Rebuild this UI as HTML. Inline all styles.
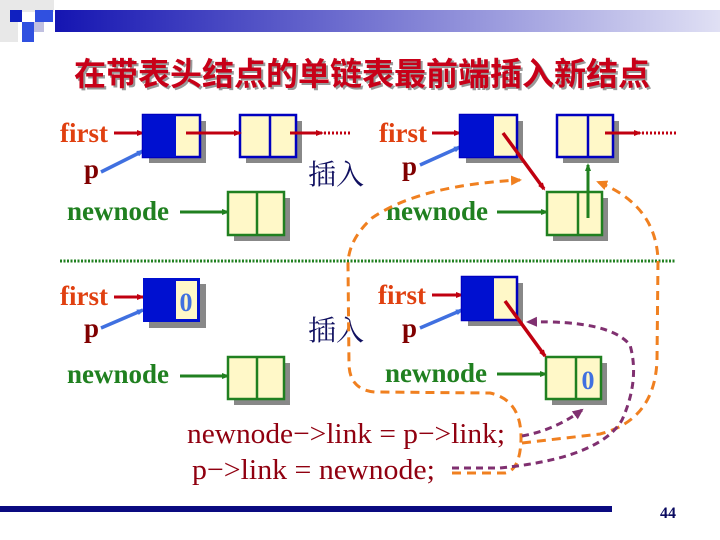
<!DOCTYPE html>
<html><head><meta charset="utf-8"><style>
html,body{margin:0;padding:0;background:#fff}
svg{display:block}
.f{font-family:"Liberation Serif",serif;font-weight:bold;font-size:27px}
.c{font-family:"Liberation Serif","Noto Serif CJK SC",serif;font-size:29px}
.k{font-family:"Liberation Serif","Noto Serif CJK SC",serif;font-size:28px}
</style></head><body>
<svg width="720" height="540" viewBox="0 0 720 540" xmlns="http://www.w3.org/2000/svg">
<defs>
<linearGradient id="g" x1="0" x2="1"><stop offset="0" stop-color="#1010b0"/><stop offset="1" stop-color="#e0e0f4"/></linearGradient>
<marker id="ar" markerWidth="8" markerHeight="8" refX="6" refY="4" orient="auto" markerUnits="userSpaceOnUse"><path d="M0,1 L8,4 L0,7z" fill="#c00010"/></marker>
<marker id="ab" markerWidth="8" markerHeight="8" refX="6" refY="4" orient="auto" markerUnits="userSpaceOnUse"><path d="M0,1 L8,4 L0,7z" fill="#4070e0"/></marker>
<marker id="ag" markerWidth="8" markerHeight="8" refX="6" refY="4" orient="auto" markerUnits="userSpaceOnUse"><path d="M0,1 L8,4 L0,7z" fill="#208020"/></marker>
<marker id="ao" markerWidth="12" markerHeight="12" refX="9" refY="6" orient="auto" markerUnits="userSpaceOnUse"><path d="M0,1 L11,6 L0,11z" fill="#f08020"/></marker>
<marker id="ap" markerWidth="12" markerHeight="12" refX="9" refY="6" orient="auto" markerUnits="userSpaceOnUse"><path d="M0,1 L11,6 L0,11z" fill="#803070"/></marker>
</defs>
<rect x="40" y="10" width="680" height="22" fill="url(#g)"/>
<rect x="0" y="0" width="55" height="45" fill="#fff"/>
<rect x="0" y="0" width="18" height="42" fill="#e8e8e8"/>
<rect x="18" y="0" width="36" height="12" fill="#e8e8e8"/>
<rect x="10" y="10" width="12" height="12" fill="#1020c0"/>
<rect x="35" y="10" width="18" height="12" fill="#3050e0"/>
<rect x="22" y="22" width="12" height="20" fill="#3050e0"/>
<rect x="34" y="22" width="10" height="10" fill="#c0c0e0"/>
<text x="364" y="87" text-anchor="middle" font-family="'Liberation Sans','Noto Sans CJK SC',sans-serif" font-weight="bold" font-size="32" fill="#999">在带表头结点的单链表最前端插入新结点</text>
<text x="362" y="85" text-anchor="middle" font-family="'Liberation Sans','Noto Sans CJK SC',sans-serif" font-weight="bold" font-size="32" fill="#c80018">在带表头结点的单链表最前端插入新结点</text>

<text class="f" x="60" y="142" fill="#e04010">first</text>
<text class="f" x="84" y="178" fill="#800000">p</text>
<text class="f" x="67" y="220" fill="#208020">newnode</text>
<line x1="114" y1="133" x2="143" y2="133" stroke="#c00010" stroke-width="3" marker-end="url(#ar)"/>
<line x1="101" y1="172" x2="143" y2="151" stroke="#4070e0" stroke-width="3.5" marker-end="url(#ab)"/>
<rect x="149" y="121" width="57" height="42" fill="#888"/>
<rect x="143" y="115" width="57" height="42" fill="#fff8c8" stroke="#0000c0" stroke-width="2.5"/>
<rect x="143" y="115" width="33" height="42" fill="#0010d0"/>
<rect x="246" y="121" width="56" height="42" fill="#888"/>
<rect x="240" y="115" width="56" height="42" fill="#fff8c8" stroke="#0000c0" stroke-width="2.5"/>
<line x1="270" y1="115" x2="270" y2="157" stroke="#0000c0" stroke-width="2.5"/>
<line x1="186" y1="133" x2="240" y2="133" stroke="#c00010" stroke-width="3" marker-end="url(#ar)"/>
<line x1="290" y1="133" x2="322" y2="133" stroke="#c00010" stroke-width="3" marker-end="url(#ar)"/>
<line x1="324" y1="133" x2="352" y2="133" stroke="#c00010" stroke-width="3" stroke-dasharray="2 2"/>
<line x1="180" y1="212" x2="228" y2="212" stroke="#208020" stroke-width="3" marker-end="url(#ag)"/>
<rect x="234" y="198" width="56" height="43" fill="#888"/>
<rect x="228" y="192" width="56" height="43" fill="#fff8c8" stroke="#208020" stroke-width="2.5"/>
<line x1="257" y1="192" x2="257" y2="235" stroke="#208020" stroke-width="2.5"/>
<text class="k" x="308" y="184" fill="#101060">插入</text>

<text class="f" x="379" y="142" fill="#e04010">first</text>
<text class="f" x="402" y="175" fill="#800000">p</text>
<text class="f" x="386" y="220" fill="#208020">newnode</text>
<line x1="432" y1="133" x2="460" y2="133" stroke="#c00010" stroke-width="3" marker-end="url(#ar)"/>
<line x1="420" y1="165" x2="460" y2="147" stroke="#4070e0" stroke-width="3.5" marker-end="url(#ab)"/>
<rect x="466" y="121" width="57" height="42" fill="#888"/>
<rect x="460" y="115" width="57" height="42" fill="#fff8c8" stroke="#0000c0" stroke-width="2.5"/>
<rect x="460" y="115" width="34" height="42" fill="#0010d0"/>
<rect x="563" y="121" width="56" height="42" fill="#888"/>
<rect x="557" y="115" width="56" height="42" fill="#fff8c8" stroke="#0000c0" stroke-width="2.5"/>
<line x1="588" y1="115" x2="588" y2="157" stroke="#0000c0" stroke-width="2.5"/>
<line x1="605" y1="133" x2="640" y2="133" stroke="#c00010" stroke-width="3" marker-end="url(#ar)"/>
<line x1="642" y1="133" x2="676" y2="133" stroke="#c00010" stroke-width="3" stroke-dasharray="2 2"/>
<line x1="497" y1="212" x2="547" y2="212" stroke="#208020" stroke-width="3" marker-end="url(#ag)"/>
<rect x="553" y="198" width="55" height="43" fill="#888"/>
<rect x="547" y="192" width="55" height="43" fill="#fff8c8" stroke="#208020" stroke-width="2.5"/>
<line x1="578" y1="192" x2="578" y2="235" stroke="#208020" stroke-width="2.5"/>
<line x1="503" y1="133" x2="544" y2="189" stroke="#c00010" stroke-width="3.5" marker-end="url(#ar)"/>
<line x1="588" y1="218" x2="588" y2="165" stroke="#208020" stroke-width="3" marker-end="url(#ag)"/>

<line x1="60" y1="261" x2="675" y2="261" stroke="#208020" stroke-width="3" stroke-dasharray="2 1.5"/>

<text class="f" x="60" y="305" fill="#e04010">first</text>
<text class="f" x="84" y="337" fill="#800000">p</text>
<text class="f" x="67" y="383" fill="#208020">newnode</text>
<line x1="114" y1="297" x2="143" y2="297" stroke="#c00010" stroke-width="3" marker-end="url(#ar)"/>
<line x1="101" y1="328" x2="143" y2="310" stroke="#4070e0" stroke-width="3.5" marker-end="url(#ab)"/>
<rect x="149" y="284" width="57" height="44" fill="#888"/>
<rect x="143" y="278" width="57" height="44" fill="#0010d0"/>
<rect x="176" y="281" width="21" height="38" fill="#fff8c8"/>
<text x="186" y="311" text-anchor="middle" font-family="Liberation Serif,serif" font-weight="bold" font-size="26" fill="#4070e0">0</text>
<line x1="180" y1="376" x2="228" y2="376" stroke="#208020" stroke-width="3" marker-end="url(#ag)"/>
<rect x="234" y="363" width="56" height="42" fill="#888"/>
<rect x="228" y="357" width="56" height="42" fill="#fff8c8" stroke="#208020" stroke-width="2.5"/>
<line x1="257" y1="357" x2="257" y2="399" stroke="#208020" stroke-width="2.5"/>
<text class="k" x="308" y="340" fill="#101060">插入</text>

<text class="f" x="378" y="304" fill="#e04010">first</text>
<text class="f" x="402" y="337" fill="#800000">p</text>
<text class="f" x="385" y="382" fill="#208020">newnode</text>
<line x1="432" y1="295" x2="462" y2="295" stroke="#c00010" stroke-width="3" marker-end="url(#ar)"/>
<line x1="420" y1="328" x2="462" y2="310" stroke="#4070e0" stroke-width="3.5" marker-end="url(#ab)"/>
<rect x="468" y="283" width="55" height="43" fill="#888"/>
<rect x="462" y="277" width="55" height="43" fill="#fff8c8" stroke="#0000c0" stroke-width="2.5"/>
<rect x="462" y="277" width="32" height="43" fill="#0010d0"/>
<line x1="497" y1="374" x2="546" y2="374" stroke="#208020" stroke-width="3" marker-end="url(#ag)"/>
<rect x="552" y="363" width="55" height="42" fill="#888"/>
<rect x="546" y="357" width="55" height="42" fill="#fff8c8" stroke="#208020" stroke-width="2.5"/>
<line x1="576" y1="357" x2="576" y2="399" stroke="#208020" stroke-width="2.5"/>
<text x="588" y="389" text-anchor="middle" font-family="Liberation Serif,serif" font-weight="bold" font-size="26" fill="#4070e0">0</text>
<line x1="505" y1="301" x2="545" y2="356" stroke="#c00010" stroke-width="3.5" marker-end="url(#ar)"/>

<path d="M452,473 L505,473 Q520,470 521,440 Q522,400 490,393 L375,392 Q350,390 349,365 L348,265 Q348,240 372,218 Q420,185 520,180" fill="none" stroke="#f08020" stroke-width="3" stroke-dasharray="9 6" marker-end="url(#ao)"/>
<path d="M522,443 L600,434 Q655,420 657,360 L658,260 Q656,205 598,182" fill="none" stroke="#f08020" stroke-width="3" stroke-dasharray="9 6" marker-end="url(#ao)"/>
<path d="M522,436 Q555,430 582,410" fill="none" stroke="#803070" stroke-width="3" stroke-dasharray="7 5" marker-end="url(#ap)"/>
<path d="M500,468 Q600,458 622,420 Q640,380 630,345 Q610,320 528,322" fill="none" stroke="#803070" stroke-width="3" stroke-dasharray="7 5" marker-end="url(#ap)"/>
<line x1="452" y1="468" x2="500" y2="468" stroke="#803070" stroke-width="3" stroke-dasharray="7 5"/>

<text class="c" x="187" y="443" fill="#900010" textLength="318" lengthAdjust="spacingAndGlyphs">newnode−&gt;link = p−&gt;link;</text>
<text class="c" x="192" y="479" fill="#900010" textLength="243" lengthAdjust="spacingAndGlyphs">p−&gt;link = newnode;</text>

<rect x="0" y="506" width="612" height="6" fill="#0a0a80"/>
<text x="668" y="518" text-anchor="middle" font-family="Liberation Serif,serif" font-weight="bold" font-size="16" fill="#0a0a60">44</text>
</svg>
</body></html>
